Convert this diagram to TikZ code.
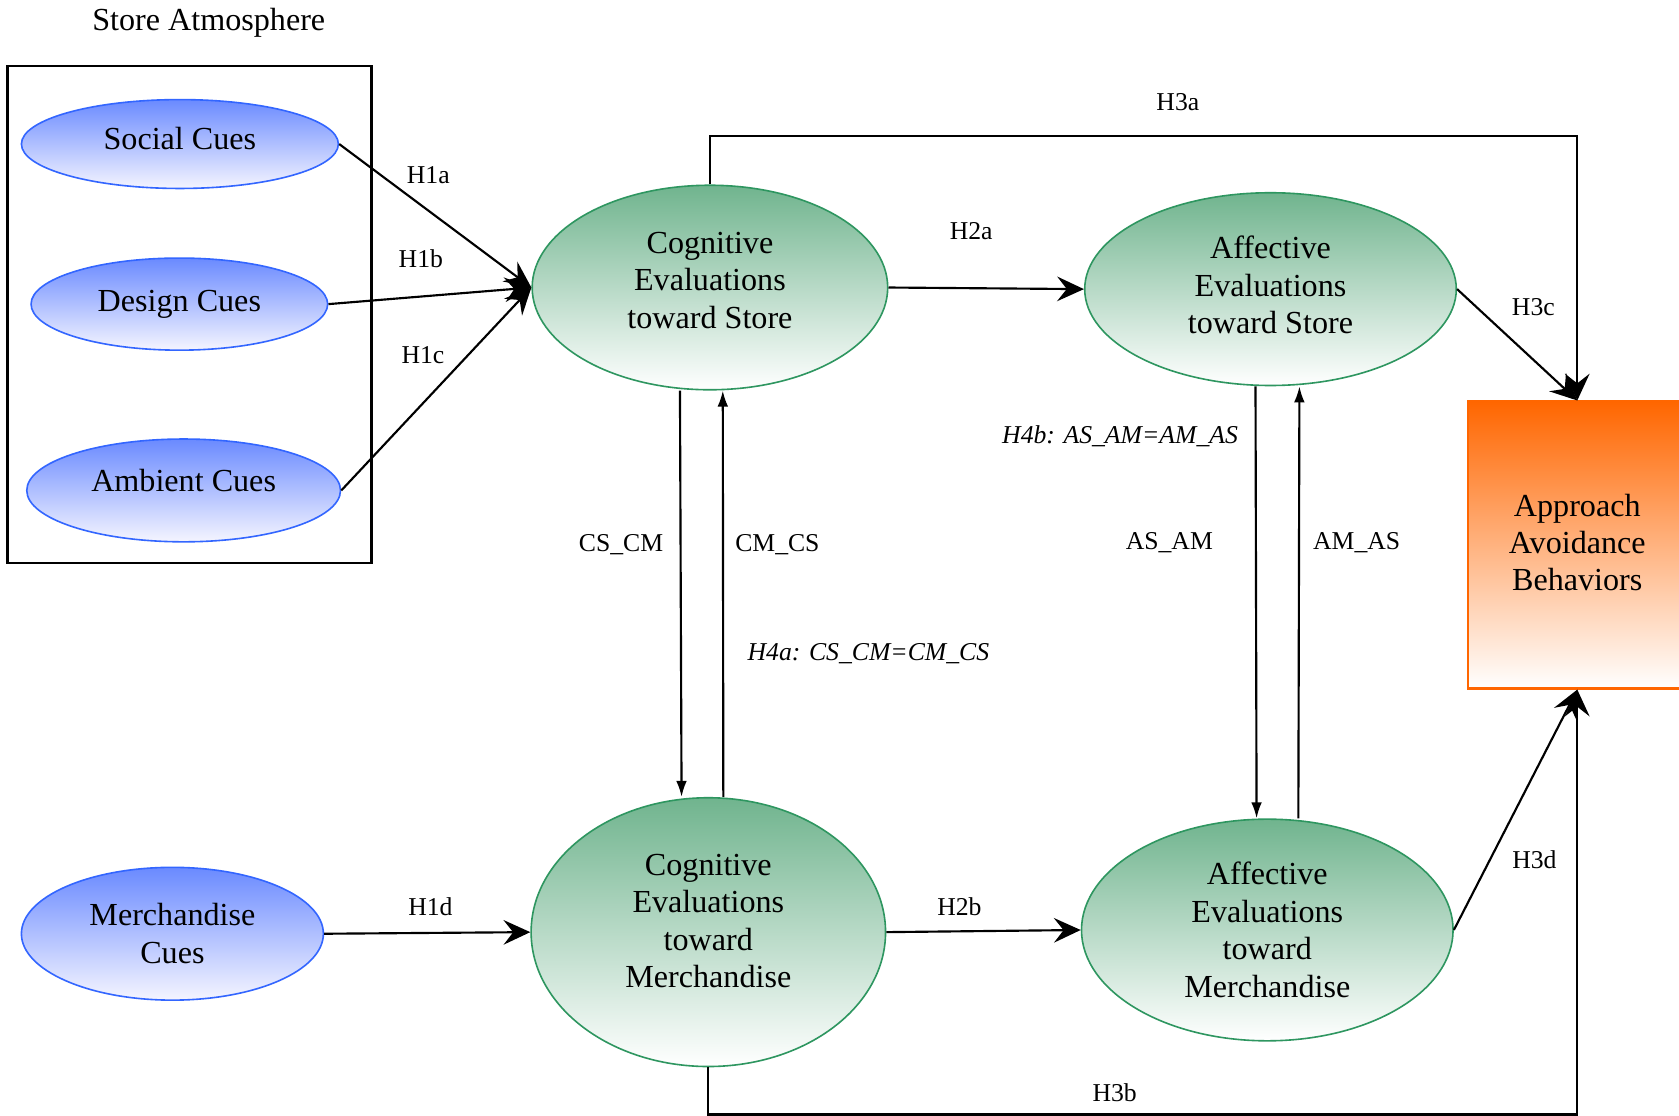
\documentclass[tikz,border=0pt]{standalone}
\usepackage{fontspec}
\setmainfont{Liberation Serif}
\usetikzlibrary{arrows.meta,shapes.geometric}
\definecolor{cueTop}{RGB}{106,138,255}
\definecolor{cueBorder}{RGB}{51,102,255}
\definecolor{evTop}{RGB}{112,180,142}
\definecolor{evBorder}{RGB}{46,150,96}
\definecolor{apOrange}{RGB}{255,102,0}
\begin{document}
\begin{tikzpicture}[x=1pt,y=-1pt,
  cue/.style={ellipse, draw=cueBorder, line width=1.5pt, top color=cueTop, bottom color=white!96!blue, inner sep=0pt, font=\fontsize{30}{35}\selectfont, align=center},
  evalnode/.style={ellipse, draw=evBorder, line width=1.5pt, top color=evTop, bottom color=white, inner sep=0pt, font=\fontsize{30}{35}\selectfont, align=center},
  lbl/.style={font=\fontsize{24}{28}\selectfont, inner sep=0pt},
  ilbl/.style={font=\fontsize{24}{28}\selectfont\itshape, inner sep=0pt},
  conn/.style={line width=2pt, -{Stealth[length=25pt,width=23pt,inset=9pt]}},
  vconn/.style={line width=2pt, -{Latex[length=15pt,width=10pt]}}]
\clip (0,0) rectangle (1568,1042);
\fill[white] (0,0) rectangle (1568,1042);

% Store atmosphere group
\node[font=\fontsize{30}{35}\selectfont] (title) at (195,21) {Store Atmosphere};
\draw[line width=2pt] (7,62) rectangle (347,526);
\node[cue, minimum width=296, minimum height=83, text depth=10pt] (sc) at (168,134.5) {Social Cues};
\node[cue, minimum width=277, minimum height=86] (dc) at (167.5,284) {Design Cues};
\node[cue, minimum width=293, minimum height=96, text depth=18pt] (ac) at (171.5,458) {Ambient Cues};
\node[cue, minimum width=282, minimum height=124] (mc) at (161,872) {Merchandise\\Cues};

% Evaluations
\node[evalnode, minimum width=332, minimum height=191, text depth=14pt] (cs) at (663,268.5) {Cognitive\\Evaluations\\toward Store};
\node[evalnode, minimum width=347, minimum height=180, text depth=8pt] (as) at (1186.5,270) {Affective\\Evaluations\\toward Store};
\node[evalnode, minimum width=331, minimum height=251, text depth=21pt] (cm) at (661.5,870.5) {Cognitive\\Evaluations\\toward\\Merchandise};
\node[evalnode, minimum width=347, minimum height=207] (am) at (1183.5,868.5) {Affective\\Evaluations\\toward\\Merchandise};

% Approach avoidance
\node[rectangle, draw=apOrange, line width=2pt, top color=apOrange, middle color=apOrange!20, bottom color=white, minimum width=204, minimum height=268, inner sep=0pt, font=\fontsize{30}{35}\selectfont, align=center, text depth=5pt] (ap) at (1473,509) {Approach\\Avoidance\\Behaviors};

% Connectors
\draw[conn] (sc.east) -- (cs.west);
\draw[conn] (dc.east) -- (cs.west);
\draw[conn] (ac.east) -- (cs.west);
\draw[conn] (mc.east) -- (cm.west);
\draw[conn] (cs.east) -- (as.west);
\draw[conn] (cm.east) -- (am.west);
\draw[conn] (cs.north) -- ++(0,-45) -| (ap.north);
\draw[conn] (cm.south) -- ++(0,44) -| (ap.south);
\draw[conn] (as.east) -- (ap.north);
\draw[conn] (am.east) -- (ap.south);

\draw[vconn] ([xshift=-28pt]cs.south) -- ([xshift=-25pt]cm.north);
\draw[vconn] ([xshift=14pt]cm.north) -- ([xshift=12pt]cs.south);
\draw[vconn] ([xshift=-14pt]as.south) -- ([xshift=-10pt]am.north);
\draw[vconn] ([xshift=29pt]am.north) -- ([xshift=27pt]as.south);

% Labels
\node[lbl] (l1a) at (400,164) {H1a};
\node[lbl] (l1b) at (393,242) {H1b};
\node[lbl] (l1c) at (395,332) {H1c};
\node[lbl] (l1d) at (402,847) {H1d};
\node[lbl] (l2a) at (907,216) {H2a};
\node[lbl] (l2b) at (896,847) {H2b};
\node[lbl] (l3a) at (1100,95) {H3a};
\node[lbl] (l3b) at (1041,1020) {H3b};
\node[lbl] (l3c) at (1432,287) {H3c};
\node[lbl] (l3d) at (1433,803) {H3d};
\node[lbl] (lcscm) at (580,509) {CS\_CM};
\node[lbl] (lcmcs) at (726,509) {CM\_CS};
\node[lbl] (lasam) at (1092,507) {AS\_AM};
\node[lbl] (lamas) at (1267,507) {AM\_AS};
\node[ilbl] (l4a) at (811,610) {H4a: CS\_CM=CM\_CS};
\node[ilbl] (l4b) at (1046,407) {H4b: AS\_AM=AM\_AS};
\end{tikzpicture}
\end{document}
